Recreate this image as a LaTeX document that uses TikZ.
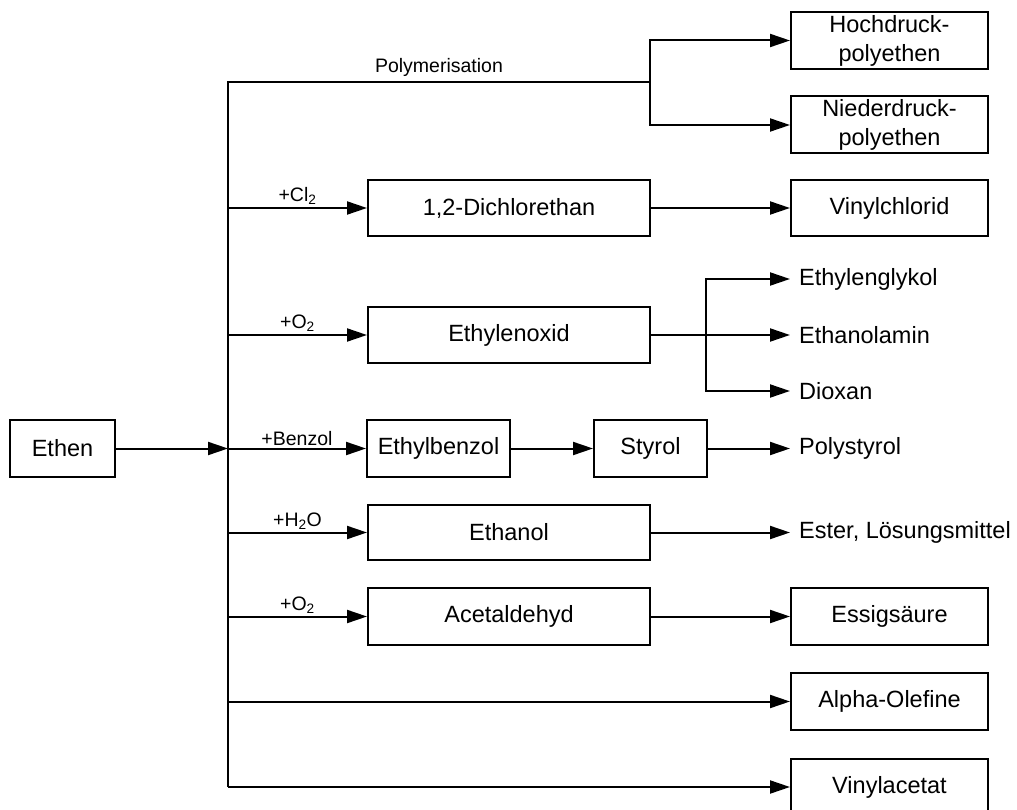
\documentclass[tikz,border=0pt]{standalone}
\usepackage{fontspec}
\setmainfont{Liberation Sans}
\usetikzlibrary{arrows.meta}

\tikzset{
  boxtext/.style={font=\fontsize{23.5}{29}\selectfont},
  labeltext/.style={font=\fontsize{19.5}{23}\selectfont},
  product/.style={draw, line width=2pt, rectangle, inner sep=0pt, boxtext, align=center},
  endtext/.style={boxtext, anchor=west, inner xsep=9pt, inner ysep=0pt},
  link/.style={line width=2pt},
  arr/.style={link, -{Triangle[length=20pt,width=13pt]}},
  rxn/.style={labeltext, midway, above=1pt, inner sep=1pt}
}

\begin{document}
\begin{tikzpicture}[x=1pt, y=-1pt]
\useasboundingbox (0,0) rectangle (1017,810);

% starting material
\node[product, minimum width=105pt, minimum height=57pt] (ethen) at (62.5,448.5) {Ethen};

% main distribution line
\coordinate (tt) at (228,82);
\coordinate (tb) at (228,787);
\coordinate (pb) at (650,82);

% first stage products
\node[product, minimum width=282pt, minimum height=56pt] (dce) at (509,208) {1,2-Dichlorethan};
\node[product, minimum width=282pt, minimum height=56pt] (eo) at (509,335) {Ethylenoxid};
\node[product, minimum width=143pt, minimum height=57pt] (eb) at (438.5,448.5) {Ethylbenzol};
\node[product, minimum width=113pt, minimum height=57pt] (sty) at (650.5,448.5) {Styrol};
\node[product, minimum width=282pt, minimum height=55pt] (etoh) at (509,532.5) {Ethanol};
\node[product, minimum width=282pt, minimum height=57pt] (acet) at (509,616.5) {Acetaldehyd};

% final products in boxes
\node[product, minimum width=197pt, minimum height=57pt] (hdpe) at (889.5,40.5) {Hochdruck-\\polyethen};
\node[product, minimum width=197pt, minimum height=57pt] (ndpe) at (889.5,125) {Niederdruck-\\polyethen};
\node[product, minimum width=197pt, minimum height=56pt] (vc) at (889.5,208) {Vinylchlorid};
\node[product, minimum width=197pt, minimum height=57pt] (essig) at (889.5,616.5) {Essigsäure};
\node[product, minimum width=197pt, minimum height=57pt] (olef) at (889.5,701.5) {Alpha-Olefine};
\node[product, minimum width=197pt, minimum height=57pt] (vac) at (889.5,787) {Vinylacetat};

% final products without boxes
\node[endtext] (glykol) at (790,279) {Ethylenglykol};
\node[endtext] (amin) at (790,335) {Ethanolamin};
\node[endtext] (diox) at (790,391) {Dioxan};
\node[endtext] (ps) at (790,448.5) {Polystyrol};
\node[endtext] (ester) at (790,532.5) {Ester, Lösungsmittel};

% connectors
\draw[arr] (ethen.east) -- (ethen.east -| tt);
\draw[link] (tb) -- (tt) -- (pb) node[labeltext, midway, above=3pt, inner sep=1pt] {Polymerisation};
\draw[arr] (pb) |- (hdpe.west);
\draw[arr] (pb) |- (ndpe.west);

\draw[arr] (dce.west -| tt) -- (dce.west) node[rxn] {+Cl\textsubscript{2}};
\draw[arr] (dce.east) -- (vc.west);

\draw[arr] (eo.west -| tt) -- (eo.west) node[rxn] {+O\textsubscript{2}};
\coordinate (eob) at (706,335);
\draw[arr] (eo.east) -- (amin.west);
\draw[arr] (eob) |- (glykol.west);
\draw[arr] (eob) |- (diox.west);

\draw[arr] (eb.west -| tt) -- (eb.west) node[rxn] {+Benzol};
\draw[arr] (eb.east) -- (sty.west);
\draw[arr] (sty.east) -- (ps.west);

\draw[arr] (etoh.west -| tt) -- (etoh.west) node[rxn] {+H\textsubscript{2}O};
\draw[arr] (etoh.east) -- (ester.west);

\draw[arr] (acet.west -| tt) -- (acet.west) node[rxn] {+O\textsubscript{2}};
\draw[arr] (acet.east) -- (essig.west);

\draw[arr] (olef.west -| tt) -- (olef.west);
\draw[arr] (tb) -- (vac.west);
\end{tikzpicture}
\end{document}
